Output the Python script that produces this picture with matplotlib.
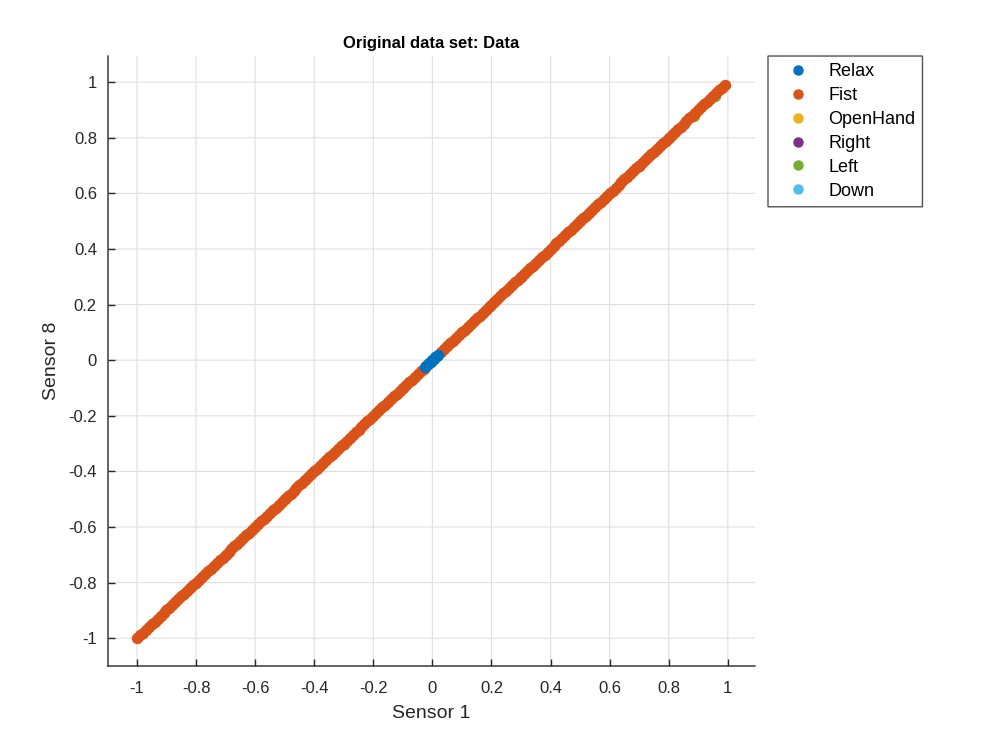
import matplotlib
matplotlib.use("Agg")
import matplotlib.pyplot as plt

plt.rcParams['font.family'] = ['Liberation Sans', 'DejaVu Sans']
plt.rcParams['path.snap'] = False

# ---- data ----
classes = ["Relax", "Fist", "OpenHand", "Right", "Left", "Down"]
colors = ["#0072BD", "#D95319", "#EDB120", "#7E2F8E", "#77AC30", "#4DBEEE"]

fist_s1 = [-1.00, -0.99, -0.98, -0.97, -0.96, -0.95, -0.94, -0.93, -0.92, -0.91,
           -0.90, -0.89, -0.88, -0.87, -0.86, -0.85, -0.84, -0.83, -0.82, -0.81,
           -0.80, -0.79, -0.78, -0.77, -0.76, -0.75, -0.74, -0.73, -0.72, -0.71,
           -0.70, -0.69, -0.68, -0.67, -0.66, -0.65, -0.64, -0.63, -0.62, -0.61,
           -0.60, -0.59, -0.58, -0.57, -0.56, -0.55, -0.54, -0.53, -0.52, -0.51,
           -0.50, -0.49, -0.48, -0.47, -0.46, -0.45, -0.44, -0.43, -0.42, -0.41,
           -0.40, -0.39, -0.38, -0.37, -0.36, -0.35, -0.34, -0.33, -0.32, -0.31,
           -0.30, -0.29, -0.28, -0.27, -0.26, -0.25, -0.24, -0.23, -0.22, -0.21,
           -0.20, -0.19, -0.18, -0.17, -0.16, -0.15, -0.14, -0.13, -0.12, -0.11,
           -0.10, -0.09, -0.08, -0.07, -0.06, -0.05, -0.04, -0.03,
           0.03, 0.04, 0.05, 0.06, 0.07, 0.08, 0.09,
           0.10, 0.11, 0.12, 0.13, 0.14, 0.15, 0.16, 0.17, 0.18, 0.19,
           0.20, 0.21, 0.22, 0.23, 0.24, 0.25, 0.26, 0.27, 0.28, 0.29,
           0.30, 0.31, 0.32, 0.33, 0.34, 0.35, 0.36, 0.37, 0.38, 0.39,
           0.40, 0.41, 0.42, 0.43, 0.44, 0.45, 0.46, 0.47, 0.48, 0.49,
           0.50, 0.51, 0.52, 0.53, 0.54, 0.55, 0.56, 0.57, 0.58, 0.59,
           0.60, 0.61, 0.62, 0.63, 0.64, 0.65, 0.66, 0.67, 0.68, 0.69,
           0.70, 0.71, 0.72, 0.73, 0.74, 0.75, 0.76, 0.77, 0.78, 0.79,
           0.80, 0.81, 0.82, 0.83, 0.84, 0.85, 0.86, 0.87, 0.88, 0.89,
           0.90, 0.91, 0.92, 0.93, 0.94, 0.95, 0.96, 0.97, 0.98, 0.99]
fist_s8 = list(fist_s1)

relax_s1 = [-0.025, -0.02, -0.015, -0.01, -0.005, 0.0, 0.005, 0.01, 0.015, 0.02]
relax_s8 = [-0.025, -0.02, -0.015, -0.01, -0.005, 0.0, 0.005, 0.01, 0.015, 0.02]

openhand_s1 = [-0.50, 0.10, 0.50]
openhand_s8 = [-0.50, 0.10, 0.50]

right_s1 = [-0.30, 0.30, 0.70]
right_s8 = [-0.30, 0.30, 0.70]

left_s1 = [0.885, 0.958]
left_s8 = [0.878, 0.951]

down_s1 = [-0.70, -0.10, 0.80]
down_s8 = [-0.70, -0.10, 0.80]

ticks = [-1, -0.8, -0.6, -0.4, -0.2, 0, 0.2, 0.4, 0.6, 0.8, 1]
tick_labels = ["-1", "-0.8", "-0.6", "-0.4", "-0.2", "0", "0.2", "0.4", "0.6", "0.8", "1"]

series = {
    "Relax": (relax_s1, relax_s8, 6),
    "Fist": (fist_s1, fist_s8, 5),
    "OpenHand": (openhand_s1, openhand_s8, 2),
    "Right": (right_s1, right_s8, 2),
    "Left": (left_s1, left_s8, 3),
    "Down": (down_s1, down_s8, 2),
}

fig = plt.figure(figsize=(10, 7.5), dpi=100)
ax = fig.add_axes([0.108, 0.112, 0.647, 0.8133])

handles = []
for name, col in zip(classes, colors):
    xs, ys, z = series[name]
    ax.plot(xs, ys, linestyle='none', marker='o', markersize=7.2,
            color=col, markeredgecolor=col, zorder=z, snap=False)
    h, = ax.plot([], [], linestyle='none', marker='o', markersize=6.5,
                 color=col, label=name)
    handles.append(h)

ax.set_xlim(-1.098, 1.092)
ax.set_ylim(-1.1, 1.094)
ax.set_xticks(ticks)
ax.set_xticklabels(tick_labels)
ax.set_yticks(ticks)
ax.set_yticklabels(tick_labels)

ax.grid(True, color='#DFDFDF', linewidth=0.8, zorder=0)
ax.set_axisbelow(True)
for s in ['top', 'right']:
    ax.spines[s].set_visible(False)
for s in ['left', 'bottom']:
    ax.spines[s].set_color('#262626')
    ax.spines[s].set_linewidth(1.0)
ax.tick_params(direction='in', length=5, width=1, colors='#262626',
               labelsize=12, pad=8)
ax.tick_params(axis='x', pad=11)

ax.set_xlabel("Sensor 1", fontsize=14, color='#262626', labelpad=6)
ax.set_ylabel("Sensor 8", fontsize=14, color='#262626', labelpad=6)
ax.set_title("Original data set: Data", fontsize=12, fontweight='bold',
             color='black', pad=6)

leg = fig.legend(handles=handles, loc='upper left',
                 bbox_to_anchor=(0.768, 0.9253), bbox_transform=fig.transFigure,
                 borderaxespad=0, fontsize=13, frameon=True, fancybox=False,
                 edgecolor='#262626', handletextpad=0.4, labelspacing=0.38,
                 borderpad=0.4, handlelength=2.53)
leg.get_frame().set_linewidth(1.0)

fig.savefig("out.png", dpi=100, facecolor='white')
